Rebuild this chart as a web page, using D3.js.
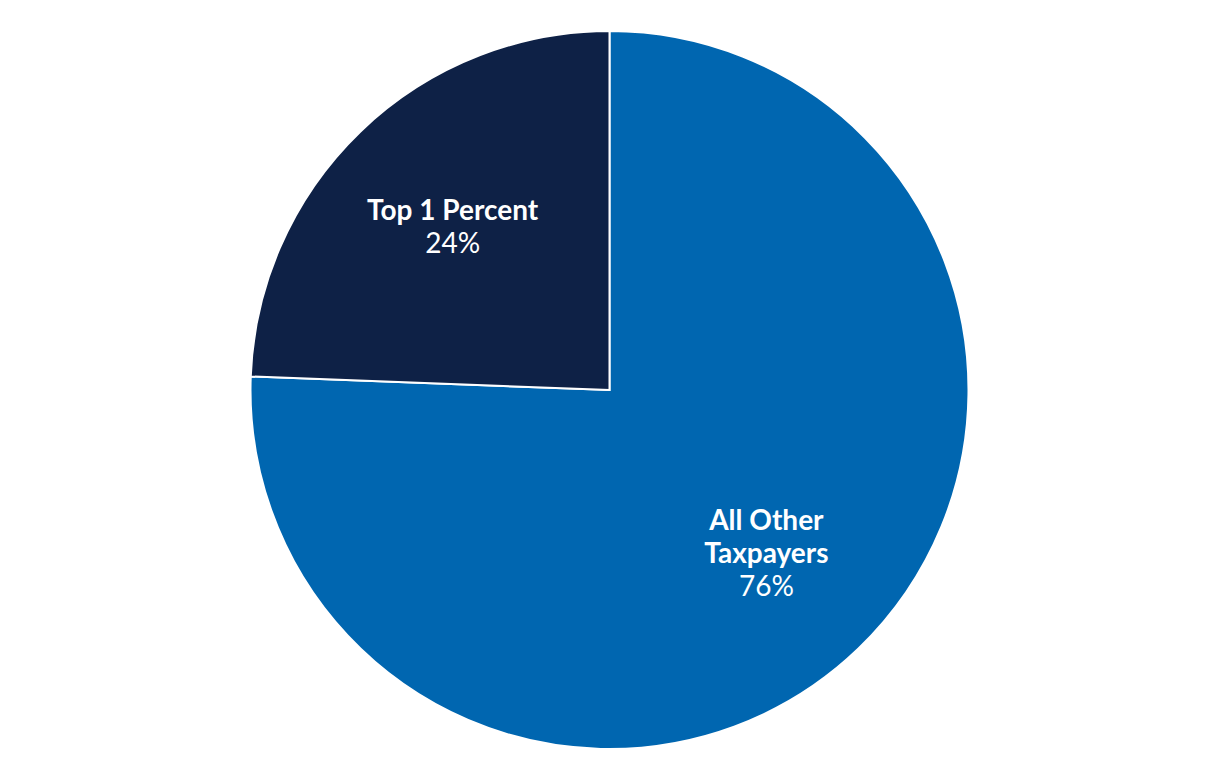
<!DOCTYPE html>
<html><head><meta charset="utf-8">
<script src="https://cdn.jsdelivr.net/npm/d3@7"></script>
<style>body{margin:0;background:#fff;}svg{display:block;font-family:Lato,sans-serif;}</style>
</head><body>
<svg id="c" width="1220" height="760"></svg>
<script>
const categories = ["All Other Taxpayers", "Top 1 Percent"];
const values = [75.6, 24.4];
const labelLines = [["All Other", "Taxpayers"], ["Top 1 Percent"]];
const valueLabels = ["76%", "24%"];
const colors = ["#0066b0", "#0e2146"];

const svg = d3.select("#c");
const cx = 609.5, cy = 390, r = 359;
const g = svg.append("g").attr("transform", `translate(${cx},${cy})`);
const pie = d3.pie().sort(null).value(d => d);
const arcs = pie(values);
const arc = d3.arc().innerRadius(0).outerRadius(r);
g.selectAll("path").data(arcs).join("path")
  .attr("d", arc).attr("fill", (d, i) => colors[i])
  .attr("stroke", "#fff").attr("stroke-width", 2);

const labelArc = d3.arc().innerRadius(r * 0.63).outerRadius(r * 0.63);
const lh = 33;
arcs.forEach((d, i) => {
  const c = labelArc.centroid(d);
  const lines = labelLines[i];
  const n = lines.length + 1;
  const t = g.append("text").attr("text-anchor", "middle").attr("fill", "#fff").attr("font-size", 28);
  lines.forEach((l, j) => {
    t.append("tspan").attr("x", c[0]).attr("y", c[1] + (j - (n - 1) / 2) * lh).attr("dy", "0.35em")
      .attr("font-weight", 700).text(l);
  });
  t.append("tspan").attr("x", c[0]).attr("y", c[1] + (lines.length - (n - 1) / 2) * lh).attr("dy", "0.35em")
    .attr("font-weight", 400).text(valueLabels[i]);
});
</script>
</body></html>
